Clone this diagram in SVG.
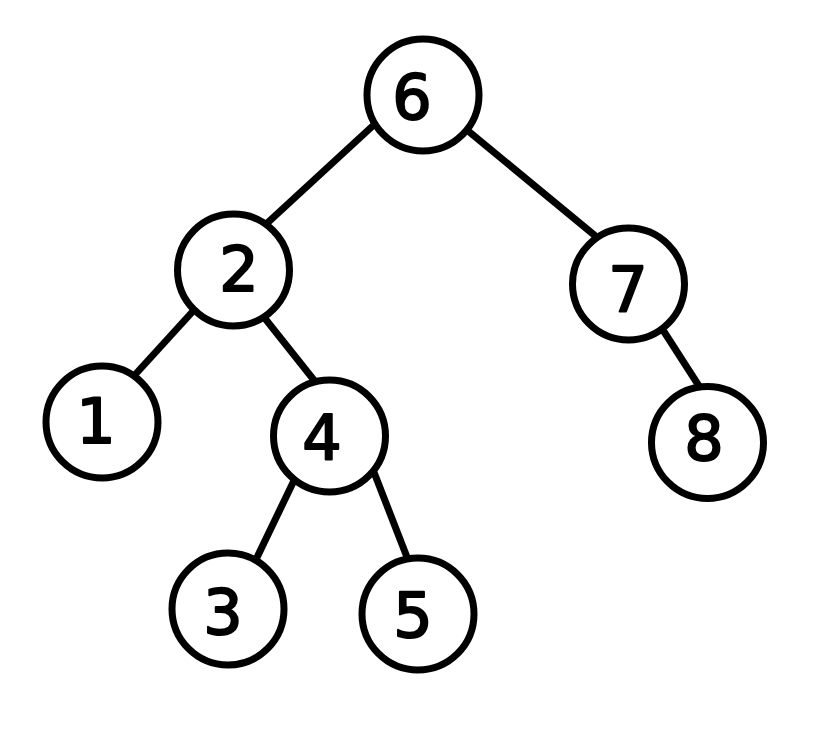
<svg xmlns="http://www.w3.org/2000/svg" width="833" height="736" viewBox="0 0 833 736">
<style>
.edge{stroke:#000;stroke-width:7;stroke-linecap:butt;fill:none}
.node circle{fill:#fff;stroke:#000;stroke-width:7}
.node text{font-family:"DejaVu Sans",sans-serif;font-size:62px;font-weight:normal;text-anchor:middle;dominant-baseline:central;fill:#000;stroke:#000;stroke-width:2;stroke-linejoin:round}
</style>
<rect width="833" height="736" fill="#fff"/>
<g id="connectors">
<line class="edge" x1="390" y1="110" x2="250" y2="239"/>
<line class="edge" x1="450" y1="116" x2="610" y2="248"/>
<line class="edge" x1="205" y1="298" x2="122" y2="389"/>
<line class="edge" x1="255" y1="306" x2="325" y2="394"/>
<line class="edge" x1="300" y1="468" x2="250" y2="572"/>
<line class="edge" x1="370" y1="462" x2="412" y2="570"/>
<line class="edge" x1="652" y1="313" x2="708" y2="400"/>
</g>
<g id="node-6" class="node"><circle cx="423" cy="95" r="56"/><text x="412" y="97">6</text></g>
<g id="node-2" class="node"><circle cx="233.5" cy="270" r="56"/><text x="239" y="269">2</text></g>
<g id="node-7" class="node"><circle cx="628.5" cy="284" r="56"/><text x="628" y="289">7</text></g>
<g id="node-1" class="node"><circle cx="102" cy="422" r="56"/><text x="96" y="421">1</text></g>
<g id="node-4" class="node"><circle cx="329.5" cy="436" r="56"/><text x="322" y="438">4</text></g>
<g id="node-8" class="node"><circle cx="707.5" cy="442.5" r="56"/><text x="704" y="438">8</text></g>
<g id="node-3" class="node"><circle cx="228" cy="609" r="56"/><text x="223" y="612">3</text></g>
<g id="node-5" class="node"><circle cx="418" cy="614" r="56"/><text x="413" y="615">5</text></g>
</svg>
